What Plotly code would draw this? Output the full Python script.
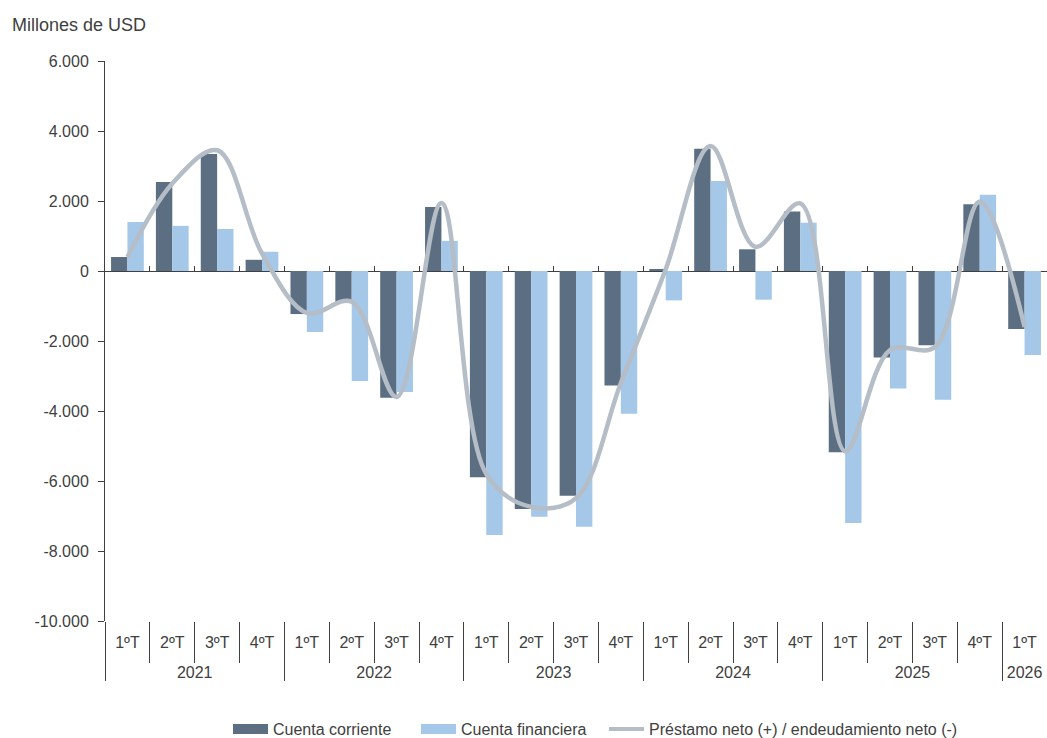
import plotly.graph_objects as go

years = ["2021"] * 4 + ["2022"] * 4 + ["2023"] * 4 + ["2024"] * 4 + ["2025"] * 4 + ["2026"]
quarters = ["1ºT", "2ºT", "3ºT", "4ºT"] * 5 + ["1ºT"]

cuenta_corriente = [400, 2540, 3340, 320, -1230, -900, -3620, 1830, -5890, -6800, -6420, -3270,
                    50, 3490, 620, 1700, -5180, -2470, -2120, 1910, -1660]
cuenta_financiera = [1400, 1290, 1200, 550, -1740, -3140, -3460, 860, -7540, -7020, -7310, -4080,
                     -840, 2570, -820, 1380, -7200, -3360, -3680, 2180, -2400]
prestamo_neto = [400, 2500, 3450, 500, -1200, -880, -3600, 1940, -5800, -6740, -6490, -3200,
                 50, 3570, 690, 1930, -5150, -2260, -2170, 1980, -1600]

y_ticks = [6000, 4000, 2000, 0, -2000, -4000, -6000, -8000, -10000]
y_min, y_max = -10000, 6000

C_CC = "#5b6e82"
C_CF = "#a5c7e8"
C_LN = "#b5bdc7"


def fmt(v):
    s = f"{abs(v):,}".replace(",", ".")
    return ("-" + s) if v < 0 else s


TXT = "#404040"
REG = "Liberation Sans, Arial, sans-serif"

# years shown one line lower than the quarter labels
x = [["<br>" + y for y in years], quarters]

fig = go.Figure()
fig.add_trace(go.Bar(x=x, y=cuenta_corriente, name="Cuenta corriente", showlegend=False,
                     marker=dict(color=C_CC, line=dict(width=0))))
fig.add_trace(go.Bar(x=x, y=cuenta_financiera, name="Cuenta financiera", showlegend=False,
                     marker=dict(color=C_CF, line=dict(width=0))))
fig.add_trace(go.Scatter(x=x, y=prestamo_neto, name="Préstamo neto (+) / endeudamiento neto (-)",
                         mode="lines", showlegend=False,
                         line=dict(color=C_LN, width=4.5, shape="spline", smoothing=1.0)))
# legend entries (wide swatches like the original)
fig.add_trace(go.Scatter(x=[None], y=[None], mode="lines", name="Cuenta corriente",
                         line=dict(color=C_CC, width=10), legend="legend"))
fig.add_trace(go.Scatter(x=[None], y=[None], mode="lines", name="Cuenta financiera",
                         line=dict(color=C_CF, width=10), legend="legend2"))
fig.add_trace(go.Scatter(x=[None], y=[None], mode="lines",
                         name="Préstamo neto (+) / endeudamiento neto (-)",
                         line=dict(color=C_LN, width=4), legend="legend3"))
# helper empty trace for zero-line tick marks axis
fig.add_trace(go.Scatter(x=[], y=[], xaxis="x2", yaxis="y", showlegend=False, hoverinfo="skip"))

n = len(quarters)
leg_common = dict(orientation="h", xanchor="left", y=-0.193, yanchor="middle",
                  font=dict(family=REG, size=16, color=TXT), itemwidth=35,
                  bgcolor="rgba(0,0,0,0)")
fig.update_layout(
    width=1047, height=738,
    margin=dict(l=105, r=0, t=61, b=117, autoexpand=False),
    paper_bgcolor="white", plot_bgcolor="white",
    barmode="group", bargap=0.27, bargroupgap=0,
    font=dict(family=REG, size=16, color=TXT),
    showlegend=True,
    legend=dict(x=(228 - 105) / 942, **leg_common),
    legend2=dict(x=(416 - 105) / 942, **leg_common),
    legend3=dict(x=(604 - 105) / 942, **leg_common),
    xaxis=dict(type="multicategory", range=[-0.5, n - 0.5], showline=False, automargin=False,
               ticks="outside", tickson="boundaries", ticklen=41, tickcolor=TXT, tickwidth=1,
               ticklabelstandoff=10,
               showdividers=True, dividercolor=TXT, dividerwidth=1,
               tickfont=dict(family=REG, size=16, color=TXT), showgrid=False, zeroline=False),
    xaxis2=dict(overlaying="x", anchor="free", position=(0 - y_min) / (y_max - y_min),
                range=[-0.5, n - 0.5], showline=False, showgrid=False, zeroline=False,
                tickvals=[i + 0.5 for i in range(n - 1)], ticks="inside", ticklen=5,
                tickcolor=TXT, showticklabels=False),
    yaxis=dict(range=[y_min, y_max], tickvals=y_ticks, ticktext=[fmt(v) for v in y_ticks],
               showgrid=False, showline=True, linecolor=TXT, linewidth=1, automargin=False,
               ticks="outside", ticklen=6, tickcolor=TXT, ticklabelstandoff=6,
               zeroline=True, zerolinecolor=TXT, zerolinewidth=1,
               tickfont=dict(family=REG, size=16, color=TXT)),
)
fig.add_annotation(text="Millones de USD", xref="paper", yref="paper",
                   x=(10 - 105) / 942, y=(621 - 25) / 560, xanchor="left", yanchor="middle",
                   showarrow=False, font=dict(family=REG, size=18, color=TXT))

fig.write_html("out.html", config={"displayModeBar": False},
               post_script="document.body.style.margin='0';document.body.style.overflow='hidden';")
